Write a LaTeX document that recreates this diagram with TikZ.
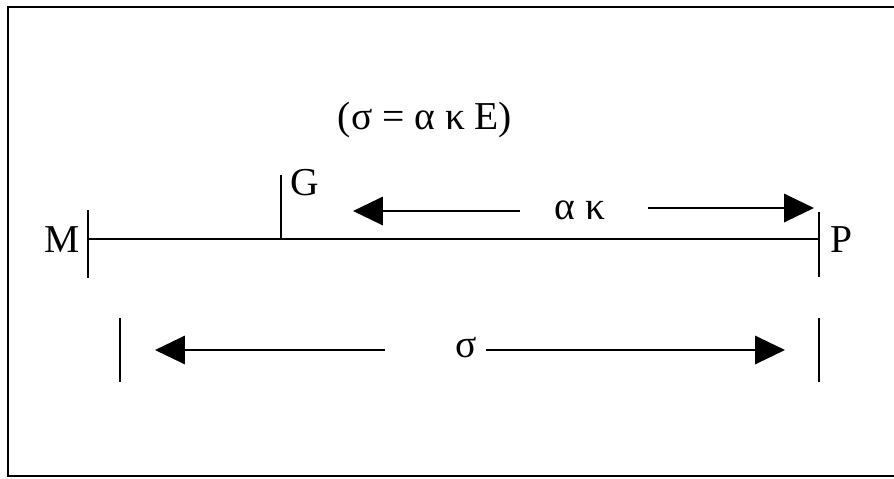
\documentclass[tikz,border=0pt]{standalone}
\usepackage{fontspec}
\setmainfont{Liberation Serif}
\usetikzlibrary{arrows.meta}
\begin{document}
\begin{tikzpicture}
[x=0.02cm, y=-0.02cm, font=\fontsize{22.5}{26}\selectfont]
\tikzstyle{tick}=[line width=0.9pt]
\tikzstyle{dimarrow}=[line width=1.6pt, -{Triangle[length=17pt, width=16pt]}]
\useasboundingbox (0,0) rectangle (894,478);
\draw [line width=1.4pt] (900,7) -- (8,7) -- (8,476) -- (900,476);

% main line M -- G -- P
\coordinate (M)  at (88,239);
\coordinate (Mt) at (88,210);
\coordinate (Mb) at (88,278);
\coordinate (G)  at (281,239);
\coordinate (Gt) at (281,175);
\coordinate (P)  at (819,239);
\coordinate (Pt) at (819,212);
\coordinate (Pb) at (819,277);
\node (Mlab) at (62,240) {M};
\node (Glab) at (305,183) {G};
\node (Plab) at (841,240) {P};
\node (eq) at (425,120) {(σ = α κ E)};

\draw [tick] (M)--(P);
\draw [tick] (Mt)--(Mb);
\draw [tick] (G)--(Gt);
\draw [tick] (Pt)--(Pb);

% alpha kappa arrows
\node (ak) at (580,210) {α κ};
\coordinate (akL)  at (520,211);
\coordinate (akLt) at (353,211);
\coordinate (akR)  at (648,208);
\coordinate (akRt) at (814,208);
\draw [dimarrow] (akL)--(akLt);
\draw [dimarrow] (akR)--(akRt);

% sigma arrows
\coordinate (St) at (120,318);
\coordinate (Sb) at (120,382);
\coordinate (Tt) at (819,318);
\coordinate (Tb) at (819,382);
\node (sg) at (466,348) {σ};
\coordinate (sgL)  at (385,350);
\coordinate (sgLt) at (155,350);
\coordinate (sgR)  at (486,350);
\coordinate (sgRt) at (785,350);
\draw [tick] (St)--(Sb);
\draw [tick] (Tt)--(Tb);
\draw [dimarrow] (sgL)--(sgLt);
\draw [dimarrow] (sgR)--(sgRt);

\end{tikzpicture}
\end{document}
